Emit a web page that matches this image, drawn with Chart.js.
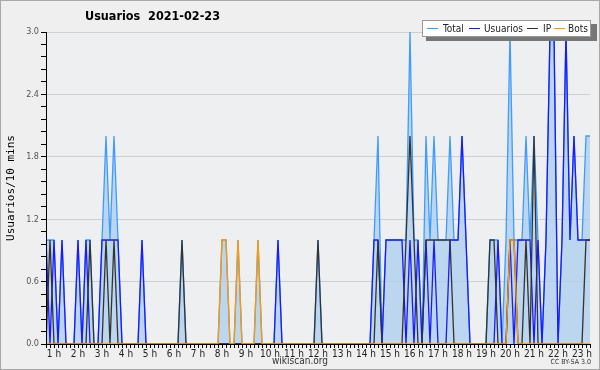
<!DOCTYPE html>
<html>
<head>
<meta charset="utf-8">
<script src="https://cdn.jsdelivr.net/npm/chart.js@4.4.1/dist/chart.umd.min.js"></script>
<style>
html,body{margin:0;padding:0;background:#efefef;}
#wrap{width:600px;height:370px;position:relative;}
</style>
</head>
<body>
<div id="wrap"><canvas id="c" width="600" height="370"></canvas></div>
<script>
// 10-minute slots shown on the axis (index 0 .. 136)
const hourLabels = ['1 h','2 h','3 h','4 h','5 h','6 h','7 h','8 h','9 h','10 h','11 h','12 h','13 h','14 h','15 h','16 h','17 h','18 h','19 h','20 h','21 h','22 h','23 h'];
const titleText = 'Usuarios  2021-02-23';
const yTitle = 'Usuarios/10 mins';
const seriesNames = ['Total','Usuarios','IP','Bots'];

const totalVals = [1,1,1,0,1,0,0,0,1,0, 1,1,0,0,1,2,1,2,1,0, 0,0,0,0,1,0,0,0,0,0,
 0,0,0,0,1,0,0,0,0,0, 0,0,0,0,1,1,0,0,1,0, 0,0,0,1,0,0,0,0,1,0,
 0,0,0,0,0,0,0,0,1,0, 0,0,0,0,0,0,0,0,0,0, 0,0,1,2,0,1,1,1,1,1,
 1,3,1,1,0,2,1,2,1,1, 1,2,1,1,2,1,0,0,0,0, 0,1,1,1,0,1,3,1,1,1,
 2,1,2,1,0,1,3,3,0,1, 3,1,2,1,1,2,2];
const usuariosVals = [1,0,1,0,1,0,0,0,1,0, 1,0,0,0,1,1,1,1,1,0, 0,0,0,0,1,0,0,0,0,0,
 0,0,0,0,0,0,0,0,0,0, 0,0,0,0,0,0,0,0,0,0, 0,0,0,0,0,0,0,0,1,0,
 0,0,0,0,0,0,0,0,0,0, 0,0,0,0,0,0,0,0,0,0, 0,0,1,1,0,1,1,1,1,1,
 0,1,0,1,0,1,0,1,0,0, 0,1,1,1,2,1,0,0,0,0, 0,0,0,1,0,0,1,0,1,1,
 1,1,0,1,0,1,3,3,0,1, 3,1,2,1,1,1,1];
const ipVals = [0,1,0,0,0,0,0,0,0,0, 0,1,0,0,0,1,0,1,0,0, 0,0,0,0,0,0,0,0,0,0,
 0,0,0,0,1,0,0,0,0,0, 0,0,0,0,0,0,0,0,0,0, 0,0,0,0,0,0,0,0,0,0,
 0,0,0,0,0,0,0,0,1,0, 0,0,0,0,0,0,0,0,0,0, 0,0,0,1,0,0,0,0,0,0,
 1,2,1,0,0,1,1,1,1,1, 1,1,0,0,0,0,0,0,0,0, 0,1,1,0,0,0,1,1,0,0,
 1,0,2,0,0,0,0,0,0,0, 0,0,0,0,0,1,1];
const botsVals = [0,0,0,0,0,0,0,0,0,0, 0,0,0,0,0,0,0,0,0,0, 0,0,0,0,0,0,0,0,0,0,
 0,0,0,0,0,0,0,0,0,0, 0,0,0,0,1,1,0,0,1,0, 0,0,0,1,0,0,0,0,0,0,
 0,0,0,0,0,0,0,0,0,0, 0,0,0,0,0,0,0,0,0,0, 0,0,0,0,0,0,0,0,0,0,
 0,0,0,0,0,0,0,0,0,0, 0,0,0,0,0,0,0,0,0,0, 0,0,0,0,0,0,1,1,0,0,
 0,0,0,0,0,0,0,0,0,0, 0,0,0,0,0,0,0];

const firstHourIndex = 2; // slot index where "1 h" sits
const slotsPerHour = 6;

function pts(arr){ return arr.map((v,i)=>({x:i,y:v})); }

const colors = ['#3f9cff','#1a1aff','#333333','#ff9900'];

const bgPlugin = {
  id:'bg',
  beforeDraw(chart){
    const {ctx, chartArea:a} = chart;
    ctx.save();
    ctx.fillStyle='#efefef';
    ctx.fillRect(0,0,chart.width,chart.height);
    ctx.fillStyle='#edeff1';
    ctx.fillRect(a.left,a.top,a.right-a.left,a.bottom-a.top);
    ctx.strokeStyle='#a8a8a8';
    ctx.lineWidth=1;
    ctx.strokeRect(0.5,0.5,chart.width-1,chart.height-1);
    ctx.restore();
  },
  afterDraw(chart){
    const {ctx, chartArea:a} = chart;
    ctx.save();
    // axis lines
    ctx.strokeStyle='#000';
    ctx.lineWidth=1;
    ctx.beginPath();
    ctx.moveTo(a.left+0.5,a.top); ctx.lineTo(a.left+0.5,a.bottom+0.5);
    ctx.lineTo(a.right,a.bottom+0.5);
    ctx.stroke();
    // title
    ctx.fillStyle='#000';
    ctx.font='bold 12.5px "DejaVu Sans Condensed", "DejaVu Sans"';
    ctx.textBaseline='middle';
    ctx.textAlign='left';
    ctx.fillText(titleText,85,17);
    // y title
    ctx.save();
    ctx.translate(11,188);
    ctx.rotate(-Math.PI/2);
    ctx.font='11px "DejaVu Sans Mono"';
    ctx.textAlign='center';
    ctx.fillText(yTitle,0,0);
    ctx.restore();
    // footer
    ctx.font='10px "DejaVu Sans Condensed", "DejaVu Sans"';
    ctx.fillStyle='#333';
    ctx.textAlign='center';
    ctx.fillText('wikiscan.org',300,361);
    ctx.font='7px "DejaVu Sans Condensed", "DejaVu Sans"';
    ctx.textAlign='right';
    ctx.fillText('CC BY-SA 3.0',591,362);
    // legend
    const lx=422, ly=20, lw=169, lh=17;
    ctx.fillStyle='#777777';
    ctx.fillRect(lx+4,ly+4,lw+2,lh);
    ctx.fillStyle='#ffffff';
    ctx.fillRect(lx,ly,lw,lh);
    ctx.strokeStyle='#9a9a9a';
    ctx.strokeRect(lx+0.5,ly+0.5,lw-1,lh-1);
    const items=[[427,443],[469,484],[527,543],[554,568]];
    ctx.font='10px "DejaVu Sans Condensed", "DejaVu Sans"';
    ctx.textAlign='left';
    chart.data.datasets.forEach((ds,k)=>{
      const [x0,tx]=items[k];
      ctx.strokeStyle=ds.borderColor;
      ctx.beginPath(); ctx.moveTo(x0,ly+8.5); ctx.lineTo(x0+11,ly+8.5); ctx.stroke();
      ctx.fillStyle='#222';
      ctx.fillText(ds.label,tx,ly+9);
    });
    ctx.restore();
  }
};

new Chart(document.getElementById('c'),{
  type:'line',
  data:{
    datasets:[
      {label:seriesNames[0],data:pts(totalVals),borderColor:colors[0],backgroundColor:'rgba(170,206,236,0.75)',fill:'origin',order:4},
      {label:seriesNames[1],data:pts(usuariosVals),borderColor:colors[1],fill:false,order:3},
      {label:seriesNames[2],data:pts(ipVals),borderColor:colors[2],fill:false,order:2},
      {label:seriesNames[3],data:pts(botsVals),borderColor:colors[3],fill:false,order:1}
    ]
  },
  options:{
    responsive:false,
    animation:false,
    events:[],
    elements:{line:{borderWidth:1.3,tension:0},point:{radius:0}},
    layout:{padding:{left:0,top:32,right:10,bottom:0}},
    plugins:{legend:{display:false},tooltip:{enabled:false},title:{display:false}},
    scales:{
      x:{
        type:'linear',min:0,max:totalVals.length-1,
        afterFit(s){s.height=26;},
        border:{display:false},
        grid:{drawOnChartArea:false,tickLength:4,color:'#000',tickColor:'#000'},
        ticks:{stepSize:1,autoSkip:false,maxRotation:0,minRotation:0,padding:0,
          font:{family:'"DejaVu Sans Condensed", "DejaVu Sans"',size:10},color:'#222',
          callback(v){const k=(v-firstHourIndex)/slotsPerHour; return (Number.isInteger(k)&&k>=0&&k<hourLabels.length)?hourLabels[k]:'';}}
      },
      y:{
        min:0,max:3,
        afterFit(s){s.width=46;},
        border:{display:false},
        grid:{tickLength:5,tickColor:'#000',
          color(ctx){const v=ctx.tick?ctx.tick.value:0; const r=v/0.6; return (Math.abs(r-Math.round(r))<1e-6 && v>0)?'#cfcfcf':'rgba(0,0,0,0)';}},
        ticks:{stepSize:0.12,padding:2,autoSkip:false,
          font:{family:'"DejaVu Sans Condensed", "DejaVu Sans"',size:9},color:'#555',
          callback(v){const r=v/0.6; return Math.abs(r-Math.round(r))<1e-6?v.toFixed(1):'';}}
      }
    }
  },
  plugins:[bgPlugin]
});
</script>
</body>
</html>
